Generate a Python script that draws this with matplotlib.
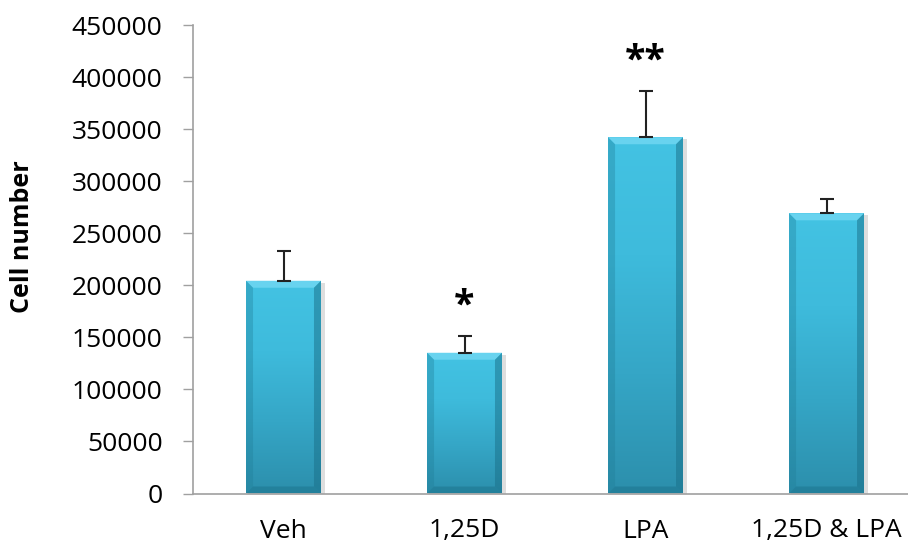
import numpy as np
import matplotlib
matplotlib.use("Agg")
import matplotlib.pyplot as plt
from matplotlib.colors import LinearSegmentedColormap
from matplotlib.patches import Polygon

categories = ["Veh", "1,25D", "LPA", "1,25D & LPA"]
values = [204500, 135300, 342400, 269300]
errors = [28500, 16400, 44500, 13700]
stars = ["", "*", "**", ""]
yticks = list(range(0, 450001, 50000))

plt.rcParams['font.family'] = ['Open Sans', 'DejaVu Sans']

fig = plt.figure(figsize=(9.08, 5.54), dpi=100)
ax = fig.add_axes([193/908, (554-493.5)/554, 1 - 193/908, (493.5-25.3)/554])

x = np.arange(len(categories))
width = 0.414
bars = ax.bar(x, values, width=width, color='none', edgecolor='none', zorder=2)

ax.set_xlim(-0.5, 3.45)
ax.set_ylim(0, 450000)

cmap = LinearSegmentedColormap.from_list("g", ["#2c8fac", "#35a6c6", "#3ebbdc", "#43c3e3"])
grad = np.linspace(0, 1, 256).reshape(-1, 1)

px_x = (3.45 + 0.5) / (908 - 193)
px_y = 450000 / (493.5 - 25.3)
bev_x = 7 * px_x
bev_y = 7 * px_y

for b in bars:
    x0 = b.get_x(); w = b.get_width(); h = b.get_height()
    sh = plt.Rectangle((x0 + 2*px_x, 0), w + 2*px_x, h - 2*px_y, facecolor="#c8c8c8", alpha=0.6,
                       edgecolor='none', zorder=1.5)
    ax.add_patch(sh)
    im = ax.imshow(grad, extent=(x0, x0 + w, 0, h), origin='lower', aspect='auto',
                   cmap=cmap, zorder=2.1)
    im.set_clip_path(b)
    top = Polygon([(x0, h), (x0 + w, h), (x0 + w - bev_x, h - bev_y), (x0 + bev_x, h - bev_y)],
                  closed=True, facecolor="#6fd7f2", edgecolor='none', alpha=0.85, zorder=2.2)
    left = Polygon([(x0, h), (x0 + bev_x, h - bev_y), (x0 + bev_x, bev_y), (x0, 0)],
                   closed=True, facecolor="#1f7d97", edgecolor='none', alpha=0.35, zorder=2.2)
    right = Polygon([(x0 + w, h), (x0 + w - bev_x, h - bev_y), (x0 + w - bev_x, bev_y), (x0 + w, 0)],
                    closed=True, facecolor="#1a6f88", edgecolor='none', alpha=0.5, zorder=2.2)
    bottom = Polygon([(x0, 0), (x0 + bev_x, bev_y), (x0 + w - bev_x, bev_y), (x0 + w, 0)],
                     closed=True, facecolor="#1a6f88", edgecolor='none', alpha=0.45, zorder=2.2)
    for p in (top, left, right, bottom):
        ax.add_patch(p)

ax.errorbar(x, values, yerr=[np.zeros(len(values)), errors], fmt='none', ecolor='#222222',
            elinewidth=1.5, capsize=5, capthick=1.5, zorder=3)

for xi, v, e, s in zip(x, values, errors, stars):
    if s:
        ax.annotate(s, (xi, v + e), xytext=(0, 21), textcoords='offset points',
                    ha='center', va='center', fontsize=27, fontweight='bold',
                    color='black', zorder=4)

ax.set_yticks(yticks)
ax.set_yticklabels([str(t) for t in yticks], fontsize=19)
ax.set_xticks(x)
ax.set_xticklabels(categories, fontsize=19)
ax.tick_params(axis='x', length=0, pad=18)
ax.tick_params(axis='y', length=7, width=1, color='#a0a0a0', pad=15)

for s in ['top', 'right']:
    ax.spines[s].set_visible(False)
for s in ['left', 'bottom']:
    ax.spines[s].set_color('#a0a0a0')
    ax.spines[s].set_linewidth(1.2)
ax.spines['left'].set_zorder(5)

fig.text(23/908, 1 - 237/554, "Cell number", rotation=90, ha='center', va='center',
         fontsize=18, fontweight='bold')

fig.savefig("out.png", dpi=100)
